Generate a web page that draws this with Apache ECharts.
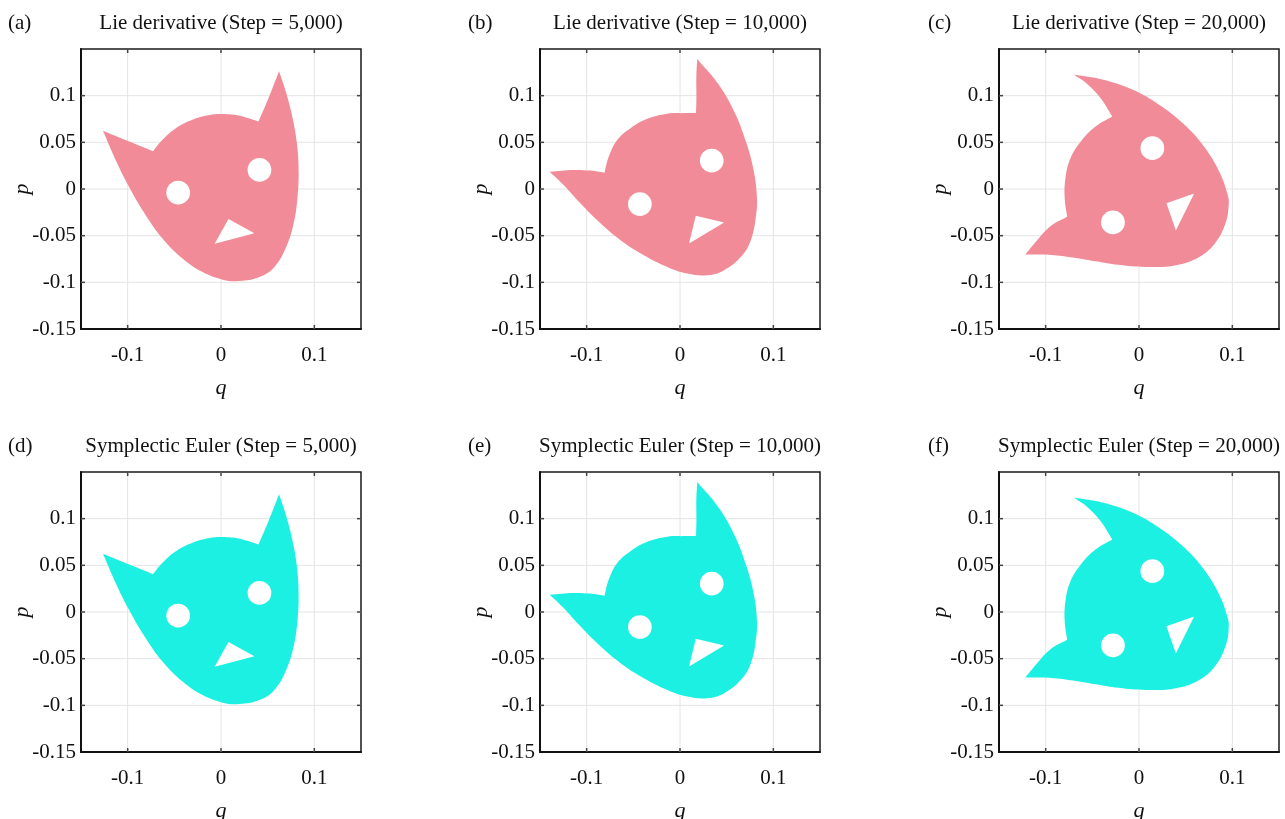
<!DOCTYPE html>
<html>
<head>
<meta charset="utf-8">
<script src="https://cdn.jsdelivr.net/npm/echarts@6/dist/echarts.min.js"></script>
<style>
  html, body { margin: 0; padding: 0; background: #fff; }
  #chart { width: 1285px; height: 819px; }
</style>
</head>
<body>
<div id="chart"></div>
<script>
// Phase-space region (q, p) of the cat image after N integration steps.
const outlineStep5000 = [
  [-0.1265, 0.0624], [-0.0728, 0.0405], [-0.0627, 0.0527], [-0.0484, 0.0652],
  [-0.0305, 0.0742], [-0.0125, 0.0792], [0.0018, 0.0803], [0.0197, 0.0785],
  [0.0401, 0.0724], [0.0502, 0.0957], [0.0622, 0.1262], [0.0699, 0.1029],
  [0.0771, 0.0742], [0.0817, 0.0455], [0.0832, 0.0168], [0.0817, -0.0118],
  [0.0778, -0.0369], [0.0699, -0.0620], [0.0573, -0.0835], [0.0412, -0.0943],
  [0.0197, -0.0986], [0.0018, -0.0971], [-0.0197, -0.0890], [-0.0412, -0.0745],
  [-0.0627, -0.0530], [-0.0806, -0.0280], [-0.0986, 0.0025], [-0.1129, 0.0312]
];
const cornersStep5000 = [0, 1, 8, 10];
const eyesStep5000 = [[-0.0459, -0.0039], [0.0412, 0.0204]];
const mouthStep5000 = [[0.0080, -0.0322], [0.0358, -0.0473], [-0.0068, -0.0587]];

const outlineStep10000 = [
  [-0.1396, 0.0186], [-0.1139, 0.0204], [-0.0959, 0.0197], [-0.0809, 0.0175],
  [-0.0763, 0.0347], [-0.0672, 0.0526], [-0.0530, 0.0652], [-0.0350, 0.0752],
  [-0.0135, 0.0806], [0.0043, 0.0813], [0.0172, 0.0813], [0.0176, 0.0990],
  [0.0175, 0.1200], [0.0185, 0.1393], [0.0402, 0.1135], [0.0580, 0.0830],
  [0.0706, 0.0508], [0.0788, 0.0204], [0.0824, -0.0082], [0.0813, -0.0297],
  [0.0759, -0.0548], [0.0652, -0.0727], [0.0473, -0.0870], [0.0294, -0.0924],
  [0.0079, -0.0906], [-0.0135, -0.0835], [-0.0387, -0.0709], [-0.0637, -0.0548],
  [-0.0852, -0.0368], [-0.1067, -0.0154], [-0.1246, 0.0043]
];
const cornersStep10000 = [0, 3, 10, 13];
const eyesStep10000 = [[-0.0430, -0.0161], [0.0340, 0.0304]];
const mouthStep10000 = [[0.0169, -0.0286], [0.0473, -0.0358], [0.0097, -0.0584]];

const outlineStep20000 = [
  [-0.0699, 0.1226], [-0.0394, 0.1172], [-0.0072, 0.1065], [0.0215, 0.0903],
  [0.0467, 0.0706], [0.0682, 0.0473], [0.0860, 0.0186], [0.0951, -0.0065],
  [0.0961, -0.0172], [0.0932, -0.0351], [0.0825, -0.0567], [0.0645, -0.0728],
  [0.0395, -0.0817], [0.0108, -0.0835], [-0.0179, -0.0817], [-0.0466, -0.0774],
  [-0.0753, -0.0728], [-0.1003, -0.0703], [-0.1218, -0.0703], [-0.1075, -0.0530],
  [-0.0932, -0.0387], [-0.0770, -0.0297], [-0.0796, -0.0100], [-0.0788, 0.0115],
  [-0.0734, 0.0330], [-0.0609, 0.0527], [-0.0466, 0.0670], [-0.0287, 0.0778],
  [-0.0412, 0.0975], [-0.0556, 0.1126]
];
const cornersStep20000 = [0, 18, 21, 27];
const eyesStep20000 = [[0.0143, 0.0437], [-0.0279, -0.0358]];
const mouthStep20000 = [[0.0294, -0.0154], [0.0591, -0.0047], [0.0395, -0.0444]];

const eyeRadius = 0.0127;

// Axis ticks and grid positions
const qGridValues = [-0.1, 0, 0.1];
const pGridValues = [-0.1, -0.05, 0, 0.05, 0.1];
const axisMin = -0.15;
const axisMax = 0.15;

const panelLetters = ['(a)', '(b)', '(c)', '(d)', '(e)', '(f)'];
const panelTitles = [
  'Lie derivative (Step = 5,000)', 'Lie derivative (Step = 10,000)', 'Lie derivative (Step = 20,000)',
  'Symplectic Euler (Step = 5,000)', 'Symplectic Euler (Step = 10,000)', 'Symplectic Euler (Step = 20,000)'
];
const shapesByStep = [
  { outline: outlineStep5000, corners: cornersStep5000, eyes: eyesStep5000, mouth: mouthStep5000 },
  { outline: outlineStep10000, corners: cornersStep10000, eyes: eyesStep10000, mouth: mouthStep10000 },
  { outline: outlineStep20000, corners: cornersStep20000, eyes: eyesStep20000, mouth: mouthStep20000 }
];
const methodColors = ['#F08B97', '#1CF0E3'];

// Layout of the 2 x 3 panel grid (pixels)
const colLeft = [81, 540, 999];
const rowTop = [49, 472];
const boxSize = 280;
const letterX = [8, 468, 928];
const titleY = [23, 446];

const FONT = '"Liberation Serif", "Times New Roman", serif';
const FONT_SIZE = 21;

const chart = echarts.init(document.getElementById('chart'), null, { renderer: 'canvas' });

function fmtTick(v) {
  return String(Number(v.toFixed(2)));
}

const grids = [], xAxes = [], yAxes = [], series = [], graphics = [];

for (let i = 0; i < 6; i++) {
  const row = Math.floor(i / 3), col = i % 3;
  const left = colLeft[col], top = rowTop[row];
  grids.push({
    left: left, top: top, width: boxSize, height: boxSize,
    show: true, borderColor: '#1a1a1a', borderWidth: 1.5, backgroundColor: 'transparent'
  });
  xAxes.push({
    gridIndex: i, type: 'value', min: axisMin, max: axisMax, interval: 0.05,
    axisLine: { show: true, onZero: false, lineStyle: { color: '#111', width: 2 } },
    axisTick: { show: false },
    splitLine: { show: false },
    axisLabel: {
      margin: 16, fontFamily: FONT, fontSize: FONT_SIZE, color: '#111',
      formatter: v => (qGridValues.some(g => Math.abs(g - v) < 1e-9) ? fmtTick(v) : '')
    }
  });
  yAxes.push({
    gridIndex: i, type: 'value', min: axisMin, max: axisMax, interval: 0.05,
    axisLine: { show: true, onZero: false, lineStyle: { color: '#111', width: 2 } },
    axisTick: { show: false },
    splitLine: { show: false },
    axisLabel: {
      margin: 5, fontFamily: FONT, fontSize: FONT_SIZE, color: '#111',
      formatter: v => (Math.abs(v - axisMax) < 1e-9 ? '' : fmtTick(v))
    }
  });

  // Grid lines and inward tick marks on all four sides
  series.push({
    type: 'custom', xAxisIndex: i, yAxisIndex: i, z: 1, silent: true,
    data: [[0, 0]],
    renderItem: function (params, api) {
      const children = [];
      const tickLen = 4;
      qGridValues.forEach(q => {
        const a = api.coord([q, axisMin]), b = api.coord([q, axisMax]);
        children.push({ type: 'line', shape: { x1: a[0], y1: a[1], x2: b[0], y2: b[1] },
          style: { stroke: '#e4e4e4', lineWidth: 1 } });
        children.push({ type: 'line', shape: { x1: a[0], y1: a[1], x2: a[0], y2: a[1] - tickLen },
          style: { stroke: '#444', lineWidth: 1.5 } });
        children.push({ type: 'line', shape: { x1: b[0], y1: b[1], x2: b[0], y2: b[1] + tickLen },
          style: { stroke: '#444', lineWidth: 1.5 } });
      });
      pGridValues.forEach(p => {
        const a = api.coord([axisMin, p]), b = api.coord([axisMax, p]);
        children.push({ type: 'line', shape: { x1: a[0], y1: a[1], x2: b[0], y2: b[1] },
          style: { stroke: '#e4e4e4', lineWidth: 1 } });
        children.push({ type: 'line', shape: { x1: a[0], y1: a[1], x2: a[0] + tickLen, y2: a[1] },
          style: { stroke: '#444', lineWidth: 1.5 } });
        children.push({ type: 'line', shape: { x1: b[0], y1: b[1], x2: b[0] - tickLen, y2: b[1] },
          style: { stroke: '#444', lineWidth: 1.5 } });
      });
      return { type: 'group', children: children };
    }
  });

  // The transported region: smooth filled outline (sharp at the ear tips and
  // notches) with the eyes and mouth cut out
  const shape = shapesByStep[col];
  const color = methodColors[row];
  series.push({
    type: 'custom', xAxisIndex: i, yAxisIndex: i, z: 2, silent: true,
    data: [[0, 0]],
    renderItem: function (params, api) {
      const toPx = pt => api.coord(pt);
      const pts = [];
      shape.outline.forEach((pt, k) => {
        const px = api.coord(pt);
        pts.push(px);
        // a repeated vertex keeps the smoothed path sharp at that corner
        if (shape.corners.indexOf(k) >= 0) pts.push([px[0], px[1]]);
      });
      const r = api.size([eyeRadius, 0])[0];
      const children = [
        { type: 'polygon', shape: { points: pts, smooth: 0.4 }, style: { fill: color } }
      ];
      shape.eyes.forEach(e => {
        const c = api.coord(e);
        children.push({ type: 'circle', shape: { cx: c[0], cy: c[1], r: r }, style: { fill: '#fff' } });
      });
      children.push({ type: 'polygon', shape: { points: shape.mouth.map(toPx) }, style: { fill: '#fff' } });
      return { type: 'group', children: children };
    }
  });

  const cx = left + boxSize / 2;
  graphics.push({
    type: 'text', x: letterX[col], y: titleY[row],
    style: { text: panelLetters[i], font: FONT_SIZE + 'px ' + FONT, fill: '#111', textAlign: 'left', textVerticalAlign: 'middle' }
  });
  graphics.push({
    type: 'text', x: cx, y: titleY[row],
    style: { text: panelTitles[i], font: FONT_SIZE + 'px ' + FONT, fill: '#111', textAlign: 'center', textVerticalAlign: 'middle' }
  });
  graphics.push({
    type: 'text', x: cx, y: top + boxSize + 59,
    style: { text: 'q', font: 'italic 22px ' + FONT, fill: '#111', textAlign: 'center', textVerticalAlign: 'middle' }
  });
  graphics.push({
    type: 'text', x: left - 59, y: top + boxSize / 2, rotation: Math.PI / 2,
    style: { text: 'p', font: 'italic 22px ' + FONT, fill: '#111', textAlign: 'center', textVerticalAlign: 'middle' }
  });
}

chart.setOption({
  backgroundColor: '#ffffff',
  animation: false,
  grid: grids,
  xAxis: xAxes,
  yAxis: yAxes,
  series: series,
  graphic: graphics
});
</script>
</body>
</html>
